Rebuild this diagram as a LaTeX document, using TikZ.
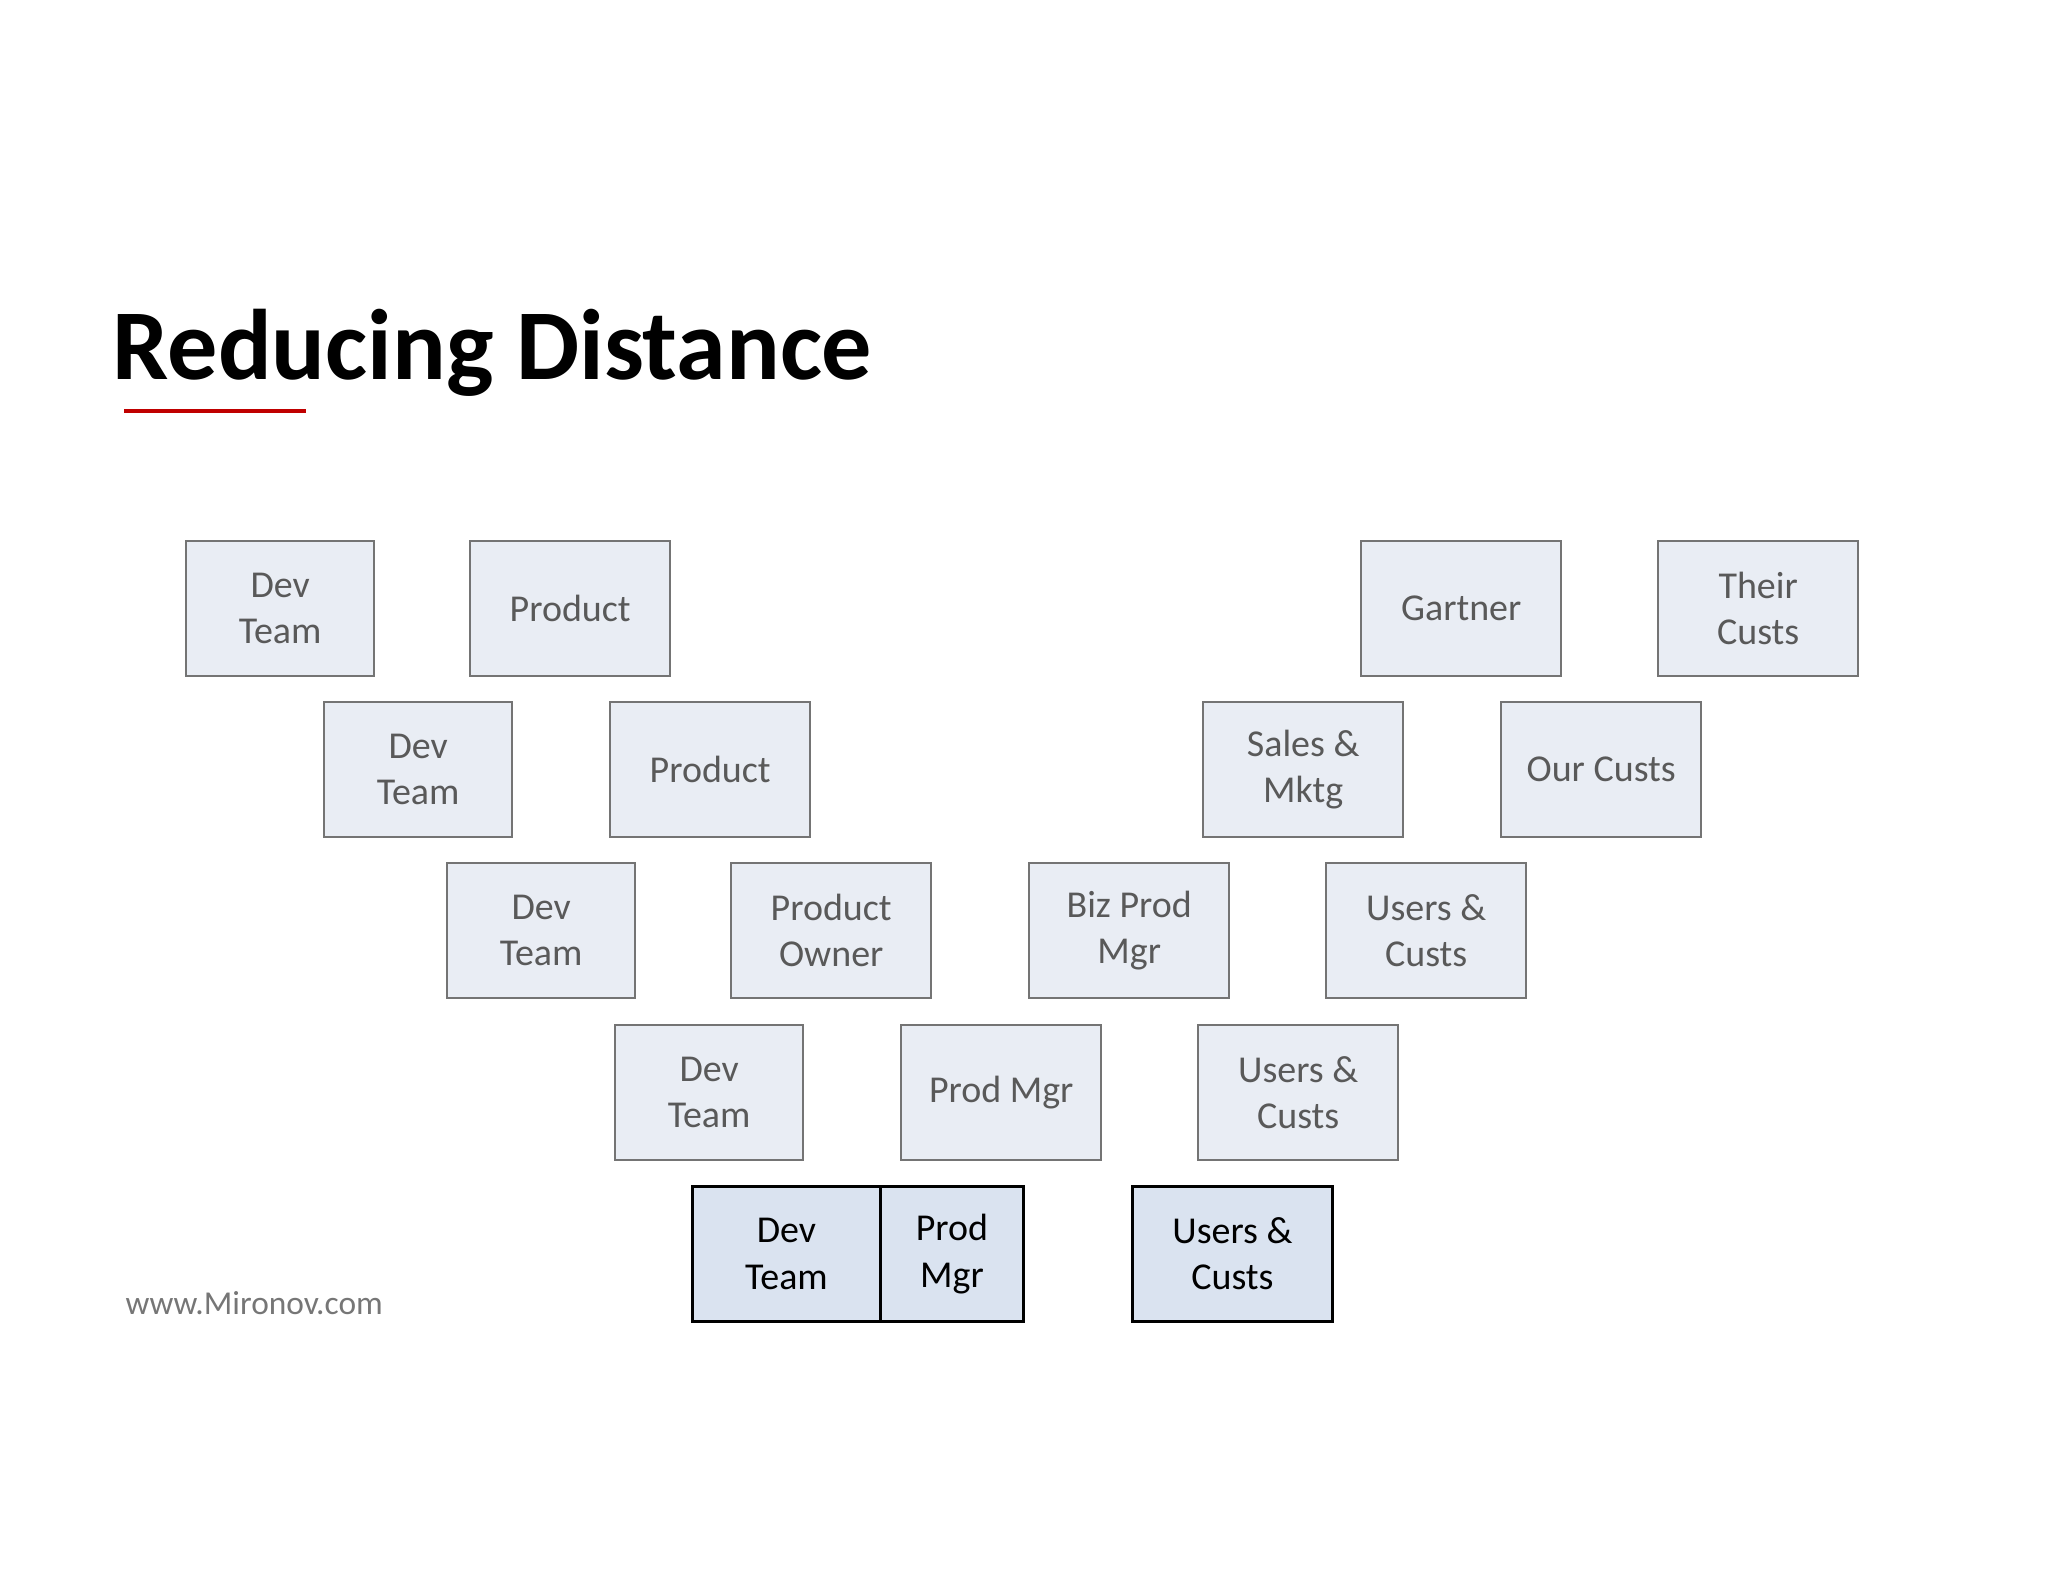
\documentclass[tikz,border=0pt]{standalone}
\usepackage{fontspec}
\setmainfont{Carlito}
\definecolor{tilefill}{HTML}{E9EDF4}
\definecolor{tileline}{HTML}{747474}
\definecolor{tiletext}{HTML}{595959}
\definecolor{closefill}{HTML}{DAE3F0}
\definecolor{slidered}{HTML}{C00000}
\definecolor{sitegray}{HTML}{767676}
\begin{document}
\begin{tikzpicture}[x=0.01cm,y=-0.01cm,
  tile/.style={draw=tileline, line width=0.65pt, fill=tilefill, text=tiletext,
    anchor=north west, minimum width=2cm, minimum height=1.35cm, inner sep=0pt,
    align=center, font=\fontsize{10.8}{13.2}\selectfont},
  devtile/.style={tile, minimum width=1.88cm},
  closetile/.style={tile, draw=black, line width=0.8pt, fill=closefill, text=black}]

\useasboundingbox (0,0) rectangle (2048,1582);

% title
\node[anchor=base west, inner sep=0pt, font=\fontsize{28.5}{34}\selectfont\bfseries] (title) at (112,379) {Reducing Distance};
\draw[slidered, line width=1.42pt] (124,411) -- (306,411);

% row 1
\node[devtile] (dev1) at (185,540) {Dev\\Team};
\node[tile] (prod1) at (469,540) {Product};
\node[tile] (gartner) at (1360,540) {Gartner};
\node[tile] (their) at (1657,540) {Their\\Custs};

% row 2
\node[devtile] (dev2) at (323,701) {Dev\\Team};
\node[tile] (prod2) at (609,701) {Product};
\node[tile] (sales) at (1202,701) {Sales \&\\Mktg};
\node[tile] (ours) at (1500,701) {Our Custs};

% row 3
\node[devtile] (dev3) at (446,862) {Dev\\Team};
\node[tile] (po) at (730,862) {Product\\Owner};
\node[tile] (bpm) at (1028,862) {Biz Prod\\Mgr\vphantom{y}};
\node[tile] (uc3) at (1325,862) {Users \&\\Custs};

% row 4
\node[devtile] (dev4) at (614,1024) {Dev\\Team};
\node[tile] (pm4) at (900,1024) {Prod Mgr};
\node[tile] (uc4) at (1197,1024) {Users \&\\Custs};

% row 5
\node[closetile, minimum width=1.88cm] (dev5) at (691,1185) {Dev\\Team};
\node[closetile, minimum width=1.43cm] (pm5) at (879,1185) {Prod\\Mgr};
\node[closetile] (uc5) at (1131,1185) {Users \&\\Custs};

\node[anchor=base west, inner sep=0pt, text=sitegray, font=\fontsize{9.5}{11}\selectfont] (site) at (125,1314) {www.Mironov.com};

\end{tikzpicture}
\end{document}
